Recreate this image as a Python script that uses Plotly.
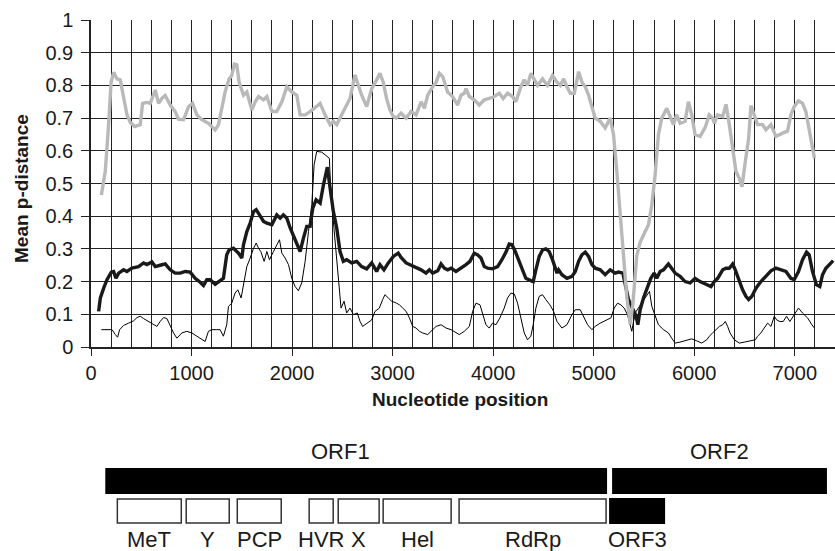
import plotly.graph_objects as go


# ======================================
# DATA
# ======================================

# grey curve (upper)
grey_x = [103, 142, 175, 200, 225, 258, 291, 324, 358, 390, 434, 490, 513, 556, 589, 639, 672, 705, 738, 788,
          837, 870, 920, 970, 1010, 1053, 1102, 1168, 1235, 1268, 1300, 1334, 1374, 1400, 1426, 1450, 1473, 1500,
          1517, 1550, 1600, 1633, 1666, 1716, 1749, 1799, 1848, 1898, 1948, 1997, 2047, 2080, 2130, 2179, 2245,
          2279, 2328, 2378, 2411, 2444, 2477, 2527, 2576, 2626, 2659, 2692, 2742, 2792, 2841, 2874, 2907, 2940,
          2973, 3007, 3035, 3084, 3134, 3184, 3233, 3283, 3316, 3349, 3399, 3432, 3465, 3498, 3547, 3597, 3647,
          3680, 3713, 3730, 3763, 3812, 3862, 3912, 3961, 4011, 4061, 4100, 4143, 4193, 4226, 4276, 4309, 4342,
          4375, 4408, 4441, 4491, 4540, 4590, 4635, 4668, 4701, 4734, 4767, 4807, 4850, 4883, 4916, 4949, 4982,
          5015, 5065, 5114, 5164, 5197, 5230, 5263, 5297, 5330, 5363, 5389, 5429, 5462, 5512, 5545, 5578, 5611,
          5644, 5677, 5727, 5793, 5826, 5859, 5909, 5942, 5975, 6008, 6058, 6107, 6150, 6183, 6200, 6233, 6283,
          6316, 6349, 6382, 6415, 6448, 6475, 6508, 6541, 6564, 6597, 6630, 6680, 6713, 6763, 6812, 6879, 6928,
          6961, 6994, 7037, 7077, 7110, 7143, 7176, 7196]
grey_y = [0.465, 0.537, 0.68, 0.81, 0.84, 0.82, 0.817, 0.76, 0.71, 0.687, 0.674, 0.68, 0.745, 0.748, 0.745,
          0.786, 0.745, 0.76, 0.769, 0.74, 0.72, 0.697, 0.695, 0.735, 0.745, 0.71, 0.695, 0.684, 0.664, 0.68,
          0.73, 0.78, 0.82, 0.83, 0.865, 0.863, 0.81, 0.78, 0.77, 0.78, 0.725, 0.75, 0.766, 0.756, 0.766, 0.72,
          0.72, 0.75, 0.796, 0.78, 0.77, 0.71, 0.71, 0.72, 0.735, 0.745, 0.71, 0.68, 0.69, 0.68, 0.70, 0.73,
          0.76, 0.832, 0.80, 0.77, 0.735, 0.79, 0.817, 0.837, 0.81, 0.76, 0.725, 0.705, 0.70, 0.715, 0.70, 0.72,
          0.71, 0.75, 0.73, 0.77, 0.796, 0.81, 0.837, 0.827, 0.78, 0.766, 0.74, 0.77, 0.776, 0.79, 0.766, 0.756,
          0.74, 0.756, 0.76, 0.766, 0.776, 0.76, 0.776, 0.766, 0.75, 0.796, 0.817, 0.80, 0.837, 0.82, 0.80, 0.82,
          0.80, 0.83, 0.81, 0.80, 0.82, 0.796, 0.776, 0.776, 0.842, 0.81, 0.796, 0.77, 0.73, 0.70, 0.69, 0.67,
          0.70, 0.65, 0.537, 0.404, 0.25, 0.15, 0.07, 0.13, 0.28, 0.32, 0.353, 0.374, 0.435, 0.526, 0.65, 0.70,
          0.73, 0.68, 0.71, 0.684, 0.69, 0.75, 0.71, 0.65, 0.644, 0.67, 0.71, 0.70, 0.684, 0.71, 0.705, 0.742,
          0.68, 0.608, 0.537, 0.516, 0.49, 0.567, 0.638, 0.738, 0.705, 0.68, 0.68, 0.664, 0.68, 0.644, 0.654,
          0.66, 0.71, 0.735, 0.753, 0.745, 0.72, 0.66, 0.613, 0.577]

# thick black curve (middle)
thick_x = [76, 93, 126, 159, 202, 225, 248, 275, 324, 357, 407, 473, 523, 556, 606, 639, 688, 738, 788, 837,
           887, 937, 986, 1036, 1086, 1119, 1152, 1185, 1235, 1268, 1317, 1350, 1374, 1417, 1466, 1500, 1517,
           1550, 1583, 1617, 1643, 1676, 1716, 1749, 1799, 1848, 1881, 1914, 1948, 1981, 2014, 2047, 2080, 2113,
           2146, 2179, 2206, 2239, 2279, 2312, 2351, 2378, 2411, 2444, 2477, 2510, 2543, 2593, 2643, 2692, 2742,
           2792, 2841, 2874, 2914, 2957, 3007, 3056, 3084, 3134, 3184, 3233, 3283, 3332, 3366, 3399, 3449, 3482,
           3515, 3548, 3581, 3630, 3680, 3730, 3769, 3812, 3845, 3879, 3912, 3945, 3994, 4044, 4087, 4127, 4160,
           4187, 4220, 4253, 4286, 4325, 4375, 4398, 4425, 4458, 4491, 4524, 4557, 4590, 4635, 4651, 4684, 4734,
           4784, 4817, 4850, 4883, 4916, 4949, 4982, 5015, 5065, 5114, 5164, 5214, 5247, 5290, 5346, 5389, 5422,
           5439, 5462, 5495, 5535, 5568, 5601, 5627, 5661, 5694, 5743, 5776, 5810, 5859, 5909, 5959, 6008, 6058,
           6107, 6150, 6167, 6200, 6233, 6283, 6316, 6349, 6382, 6408, 6442, 6481, 6514, 6541, 6574, 6614, 6663,
           6713, 6763, 6812, 6862, 6912, 6961, 6994, 7037, 7077, 7117, 7143, 7176, 7216, 7249, 7276, 7309, 7349,
           7382]
thick_y = [0.109, 0.15, 0.18, 0.206, 0.229, 0.231, 0.21, 0.226, 0.236, 0.231, 0.241, 0.246, 0.257, 0.252, 0.26,
           0.246, 0.25, 0.254, 0.236, 0.226, 0.226, 0.231, 0.229, 0.21, 0.198, 0.188, 0.206, 0.206, 0.192, 0.20,
           0.21, 0.282, 0.297, 0.302, 0.287, 0.272, 0.313, 0.353, 0.379, 0.414, 0.42, 0.404, 0.384, 0.379, 0.374,
           0.404, 0.394, 0.404, 0.394, 0.364, 0.338, 0.313, 0.292, 0.333, 0.369, 0.369, 0.425, 0.45, 0.44, 0.496,
           0.55, 0.486, 0.414, 0.364, 0.292, 0.262, 0.267, 0.257, 0.262, 0.246, 0.239, 0.257, 0.231, 0.252, 0.236,
           0.257, 0.277, 0.287, 0.274, 0.257, 0.25, 0.241, 0.236, 0.226, 0.236, 0.226, 0.233, 0.254, 0.241, 0.236,
           0.241, 0.231, 0.241, 0.252, 0.262, 0.287, 0.282, 0.272, 0.246, 0.241, 0.239, 0.246, 0.267, 0.29, 0.315,
           0.313, 0.292, 0.267, 0.236, 0.21, 0.203, 0.20, 0.236, 0.277, 0.297, 0.30, 0.292, 0.267, 0.226, 0.236,
           0.221, 0.21, 0.216, 0.231, 0.262, 0.282, 0.29, 0.277, 0.252, 0.241, 0.236, 0.221, 0.236, 0.226, 0.229,
           0.226, 0.145, 0.119, 0.094, 0.068, 0.114, 0.15, 0.18, 0.21, 0.226, 0.21, 0.231, 0.236, 0.254, 0.241,
           0.226, 0.216, 0.20, 0.196, 0.21, 0.20, 0.192, 0.185, 0.185, 0.20, 0.21, 0.236, 0.241, 0.241, 0.254,
           0.236, 0.206, 0.175, 0.155, 0.145, 0.155, 0.18, 0.20, 0.216, 0.233, 0.241, 0.236, 0.231, 0.21, 0.206,
           0.231, 0.267, 0.29, 0.282, 0.231, 0.19, 0.185, 0.221, 0.241, 0.252, 0.264]

# thin black curve (lower)
thin_x = [103, 175, 209, 242, 265, 285, 324, 374, 424, 457, 490, 523, 573, 622, 655, 688, 722, 755, 788, 821,
          854, 904, 953, 1003, 1053, 1102, 1135, 1168, 1202, 1251, 1284, 1317, 1350, 1367, 1400, 1433, 1460, 1493,
          1517, 1550, 1583, 1617, 1643, 1666, 1689, 1722, 1749, 1775, 1815, 1855, 1875, 1898, 1931, 1964, 1997,
          2030, 2063, 2096, 2130, 2163, 2196, 2219, 2245, 2295, 2351, 2371, 2384, 2411, 2437, 2460, 2487, 2517,
          2543, 2576, 2610, 2649, 2676, 2702, 2742, 2792, 2825, 2868, 2901, 2924, 2957, 2990, 3040, 3068, 3101,
          3134, 3167, 3200, 3233, 3266, 3299, 3349, 3399, 3432, 3482, 3531, 3581, 3630, 3663, 3713, 3763, 3796,
          3829, 3869, 3902, 3928, 3961, 3994, 4028, 4067, 4110, 4143, 4177, 4210, 4243, 4276, 4309, 4342, 4375,
          4398, 4425, 4458, 4491, 4524, 4564, 4601, 4635, 4684, 4734, 4784, 4817, 4866, 4899, 4939, 4982, 5015,
          5065, 5098, 5138, 5171, 5204, 5237, 5270, 5303, 5336, 5363, 5379, 5396, 5422, 5455, 5488, 5528, 5555,
          5578, 5611, 5644, 5694, 5743, 5776, 5810, 5859, 5925, 5975, 6024, 6074, 6124, 6150, 6183, 6216, 6250,
          6283, 6309, 6332, 6356, 6399, 6448, 6498, 6564, 6607, 6630, 6663, 6696, 6730, 6763, 6796, 6819, 6852,
          6885, 6918, 6951, 6984, 7011, 7037, 7077, 7127, 7170, 7196]
thin_y = [0.053, 0.053, 0.053, 0.038, 0.03, 0.053, 0.066, 0.073, 0.08, 0.09, 0.094, 0.087, 0.078, 0.068, 0.063,
          0.078, 0.09, 0.087, 0.063, 0.043, 0.027, 0.043, 0.048, 0.043, 0.033, 0.022, 0.017, 0.048, 0.053, 0.053,
          0.053, 0.033, 0.068, 0.124, 0.134, 0.165, 0.175, 0.15, 0.19, 0.246, 0.272, 0.302, 0.318, 0.302, 0.292,
          0.262, 0.292, 0.267, 0.292, 0.318, 0.328, 0.287, 0.272, 0.252, 0.21, 0.185, 0.172, 0.196, 0.262, 0.353,
          0.435, 0.557, 0.598, 0.596, 0.582, 0.577, 0.476, 0.384, 0.302, 0.221, 0.119, 0.14, 0.104, 0.119, 0.099,
          0.104, 0.078, 0.063, 0.073, 0.083, 0.109, 0.119, 0.145, 0.16, 0.15, 0.14, 0.134, 0.129, 0.119, 0.109,
          0.089, 0.063, 0.058, 0.048, 0.043, 0.038, 0.053, 0.063, 0.068, 0.058, 0.053, 0.043, 0.038, 0.048, 0.063,
          0.109, 0.134, 0.129, 0.094, 0.068, 0.058, 0.073, 0.068, 0.089, 0.119, 0.15, 0.165, 0.162, 0.134, 0.083,
          0.043, 0.022, 0.033, 0.068, 0.119, 0.155, 0.16, 0.145, 0.129, 0.109, 0.078, 0.058, 0.068, 0.099, 0.114,
          0.114, 0.094, 0.068, 0.053, 0.063, 0.073, 0.078, 0.083, 0.089, 0.119, 0.134, 0.129, 0.119, 0.099, 0.068,
          0.048, 0.078, 0.109, 0.124, 0.14, 0.16, 0.17, 0.124, 0.094, 0.068, 0.053, 0.043, 0.027, 0.012, 0.015,
          0.022, 0.025, 0.019, 0.012, 0.022, 0.033, 0.043, 0.053, 0.063, 0.068, 0.078, 0.063, 0.043, 0.022, 0.012,
          0.015, 0.019, 0.022, 0.033, 0.043, 0.058, 0.073, 0.063, 0.094, 0.083, 0.078, 0.078, 0.094, 0.078, 0.094,
          0.104, 0.119, 0.104, 0.089, 0.068, 0.058]

# genome map (nucleotide coordinates)
orf_names = ["ORF1", "ORF2"]
orf_start = [142, 5183]
orf_end = [5133, 7320]
orf_label_x = [2480, 6255]

domain_names = ["MeT", "Y", "PCP", "HVR", "X", "Hel", "RdRp"]
domain_start = [262, 947, 1455, 2170, 2459, 2906, 3661]
domain_end = [898, 1375, 1892, 2409, 2866, 3582, 5123]

orf3_start = 5153
orf3_end = 5710


# ======================================
# LAYOUT HELPERS
# ======================================

W, H = 835, 551
M_LEFT, M_TOP, M_BOT = 91, 20, 0
PLOT_W = W - M_LEFT
PLOT_H = H - M_TOP - M_BOT
X_MAX = 7400


def py(pixel_y):
    # pixel row -> paper fraction
    return (H - M_BOT - pixel_y) / PLOT_H


def px(pixel_x):
    # pixel column -> paper fraction
    return (pixel_x - M_LEFT) / PLOT_W


FONT = "Liberation Sans, Arial, Helvetica, sans-serif"
INK = "#1a1a1a"

fig = go.Figure()

# =========================
# CURVES
# =========================

fig.add_trace(go.Scatter(x=thin_x, y=thin_y, mode="lines",
                         line=dict(color="black", width=1), showlegend=False))

fig.add_trace(go.Scatter(x=thick_x, y=thick_y, mode="lines",
                         line=dict(color=INK, width=3.4), showlegend=False))

fig.add_trace(go.Scatter(x=grey_x, y=grey_y, mode="lines",
                         line=dict(color="#b9b9b9", width=3.4), showlegend=False))

# =========================
# GENOME MAP
# =========================

shapes = []
annotations = []


def label(x, y, text, xref="x"):
    annotations.append(dict(x=x, y=y, xref=xref, yref="paper", text=text,
                            showarrow=False, xanchor="center", yanchor="middle",
                            font=dict(size=22, color=INK, family=FONT)))


for name, s, e, lx in zip(orf_names, orf_start, orf_end, orf_label_x):
    shapes.append(dict(type="rect", xref="x", yref="paper",
                       x0=s, x1=e, y0=py(494), y1=py(468),
                       fillcolor="black", line=dict(width=0)))
    label(lx, py(451), name)

for name, s, e in zip(domain_names, domain_start, domain_end):
    shapes.append(dict(type="rect", xref="x", yref="paper",
                       x0=s, x1=e, y0=py(523), y1=py(499),
                       fillcolor="white", line=dict(width=1.5, color="#333")))
    label((s + e) / 2, py(539), name)

shapes.append(dict(type="rect", xref="x", yref="paper",
                   x0=orf3_start, x1=orf3_end, y0=py(524), y1=py(498),
                   fillcolor="black", line=dict(width=0)))
label((orf3_start + orf3_end) / 2, py(539), "ORF3")

# =========================
# AXIS TITLES
# =========================

annotations.append(dict(x=px(460), y=py(400), xref="paper", yref="paper",
                        text="<b>Nucleotide position</b>", showarrow=False,
                        xanchor="center", yanchor="middle",
                        font=dict(size=19, color=INK, family=FONT)))

annotations.append(dict(x=px(21), y=py(189), xref="paper", yref="paper",
                        text="<b>Mean p-distance</b>", showarrow=False, textangle=-90,
                        xanchor="center", yanchor="middle",
                        font=dict(size=19, color=INK, family=FONT)))

# =========================
# STYLE
# =========================

fig.update_layout(
    width=W, height=H,
    margin=dict(l=M_LEFT, r=0, t=M_TOP, b=M_BOT),
    paper_bgcolor="white", plot_bgcolor="white",
    font=dict(family=FONT, color=INK, size=20),
    shapes=shapes,
    annotations=annotations,
    xaxis=dict(
        range=[0, X_MAX], dtick=1000, tick0=0,
        showgrid=True, gridcolor="#222", gridwidth=1,
        minor=dict(dtick=200, tick0=0, showgrid=True, gridcolor="#222", gridwidth=1),
        ticks="outside", ticklen=7, tickcolor="#222",
        showline=True, linecolor="#222", linewidth=1.5,
        zeroline=False, automargin=False, tickfont=dict(size=20),
    ),
    yaxis=dict(
        domain=[py(347), 1],
        range=[0, 1], dtick=0.1,
        showgrid=True, gridcolor="#222", gridwidth=1,
        ticks="outside", ticklen=8, tickcolor="#222",
        showline=True, linecolor="#222", linewidth=1.5,
        zeroline=False, automargin=False, tickfont=dict(size=20),
        ticklabelstandoff=4,
    ),
)

fig.write_html("out.html", config={"displayModeBar": False},
               post_script="document.body.style.margin='0';document.body.style.overflow='hidden';")
